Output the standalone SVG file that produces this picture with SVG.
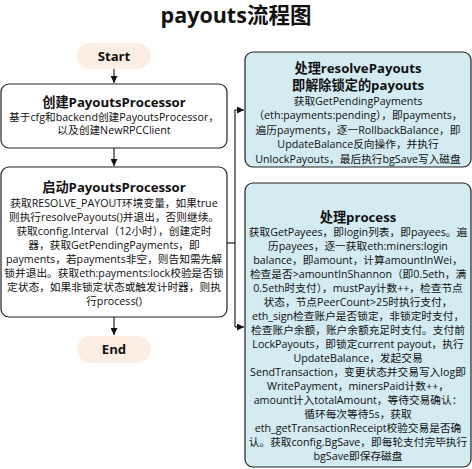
<svg xmlns="http://www.w3.org/2000/svg" width="472" height="469" viewBox="0 0 472 469">
<style>
text{font-family:"Open Sans","Noto Sans CJK SC",sans-serif;fill:#111;text-anchor:middle}
.t{font-size:21.5px;font-weight:bold}
.h{font-size:13.2px;font-weight:bold}
.b{font-size:10.7px}
.pill{fill:#fdeee3;stroke:none}
.box{fill:#ffffff;stroke:#222;stroke-width:1.2}
.blue{fill:#d3ebf1;stroke:#222;stroke-width:1.2}
.ln{fill:none;stroke:#222;stroke-width:1.2}
</style>
<defs>
<marker id="ar" viewBox="0 0 10 10" refX="10" refY="5" markerWidth="7" markerHeight="7" orient="auto" markerUnits="userSpaceOnUse">
<path d="M0,0 L10,5 L0,10 z" fill="#111"/>
</marker>
</defs>
<rect width="472" height="469" fill="#ffffff"/>
<text class="t" x="236" y="23">payouts流程图</text>
<g id="connectors">
<line class="ln" x1="114" y1="69" x2="114" y2="83" marker-end="url(#ar)"/>
<line class="ln" x1="114" y1="148" x2="114" y2="166" marker-end="url(#ar)"/>
<line class="ln" x1="114" y1="317" x2="114" y2="335" marker-end="url(#ar)"/>
<polyline class="ln" points="227,243 235,243"/>
<polyline class="ln" points="235,327 235,110 244,110" marker-end="url(#ar)"/>
<polyline class="ln" points="235,327 244,327" marker-end="url(#ar)"/>
</g>
<g id="start">
<rect class="pill" x="77" y="43" width="74" height="26" rx="13"/>
<text class="h" x="114" y="61">Start</text>
</g>
<g id="create">
<rect class="box" x="1" y="84" width="226" height="64" rx="8"/>
<text class="h" x="114" y="107">创建PayoutsProcessor</text>
<text class="b" x="114" y="121">基于cfg和backend创建PayoutsProcessor，</text>
<text class="b" x="114" y="134">以及创建NewRPCClient</text>
</g>
<g id="launch">
<rect class="box" x="1" y="167" width="226" height="150" rx="8"/>
<text class="h" x="114" y="192">启动PayoutsProcessor</text>
<text class="b" x="114" y="207">获取RESOLVE_PAYOUT环境变量，如果true</text>
<text class="b" x="114" y="221">则执行resolvePayouts()并退出，否则继续。</text>
<text class="b" x="114" y="235">获取config.Interval（12小时），创建定时</text>
<text class="b" x="114" y="249">器，获取GetPendingPayments，即</text>
<text class="b" x="114" y="263">payments，若payments非空，则告知需先解</text>
<text class="b" x="114" y="277">锁并退出。获取eth:payments:lock校验是否锁</text>
<text class="b" x="114" y="291">定状态，如果非锁定状态或触发计时器，则执</text>
<text class="b" x="114" y="305">行process()</text>
</g>
<g id="end">
<rect class="pill" x="77" y="336" width="74" height="27" rx="13.5"/>
<text class="h" x="114" y="354">End</text>
</g>
<g id="resolve">
<rect class="blue" x="245" y="52" width="226" height="115" rx="8"/>
<text class="h" x="358" y="73">处理resolvePayouts</text>
<text class="h" x="358" y="90">即解除锁定的payouts</text>
<text class="b" x="358" y="105">获取GetPendingPayments</text>
<text class="b" x="358" y="119">（eth:payments:pending），即payments，</text>
<text class="b" x="358" y="134">遍历payments，逐一RollbackBalance，即</text>
<text class="b" x="358" y="148">UpdateBalance反向操作，并执行</text>
<text class="b" x="358" y="163">UnlockPayouts，最后执行bgSave写入磁盘</text>
</g>
<g id="process">
<rect class="blue" x="245" y="183" width="226" height="284" rx="8"/>
<text class="h" x="358" y="222">处理process</text>
<text class="b" x="358" y="236">获取GetPayees，即login列表，即payees。遍</text>
<text class="b" x="358" y="250">历payees，逐一获取eth:miners:login</text>
<text class="b" x="358" y="264">balance，即amount，计算amountInWei，</text>
<text class="b" x="358" y="278">检查是否&gt;amountInShannon（即0.5eth，满</text>
<text class="b" x="358" y="292">0.5eth时支付），mustPay计数++，检查节点</text>
<text class="b" x="358" y="306">状态，节点PeerCount&gt;25时执行支付，</text>
<text class="b" x="358" y="320">eth_sign检查账户是否锁定，非锁定时支付，</text>
<text class="b" x="358" y="334">检查账户余额，账户余额充足时支付。支付前</text>
<text class="b" x="358" y="348">LockPayouts，即锁定current payout，执行</text>
<text class="b" x="358" y="362">UpdateBalance，发起交易</text>
<text class="b" x="358" y="376">SendTransaction，变更状态并交易写入log即</text>
<text class="b" x="358" y="390">WritePayment，minersPaid计数++，</text>
<text class="b" x="358" y="404">amount计入totalAmount，等待交易确认：</text>
<text class="b" x="358" y="418">循环每次等待5s，获取</text>
<text class="b" x="358" y="432">eth_getTransactionReceipt校验交易是否确</text>
<text class="b" x="358" y="446">认。获取config.BgSave，即每轮支付完毕执行</text>
<text class="b" x="358" y="460">bgSave即保存磁盘</text>
</g>
</svg>
